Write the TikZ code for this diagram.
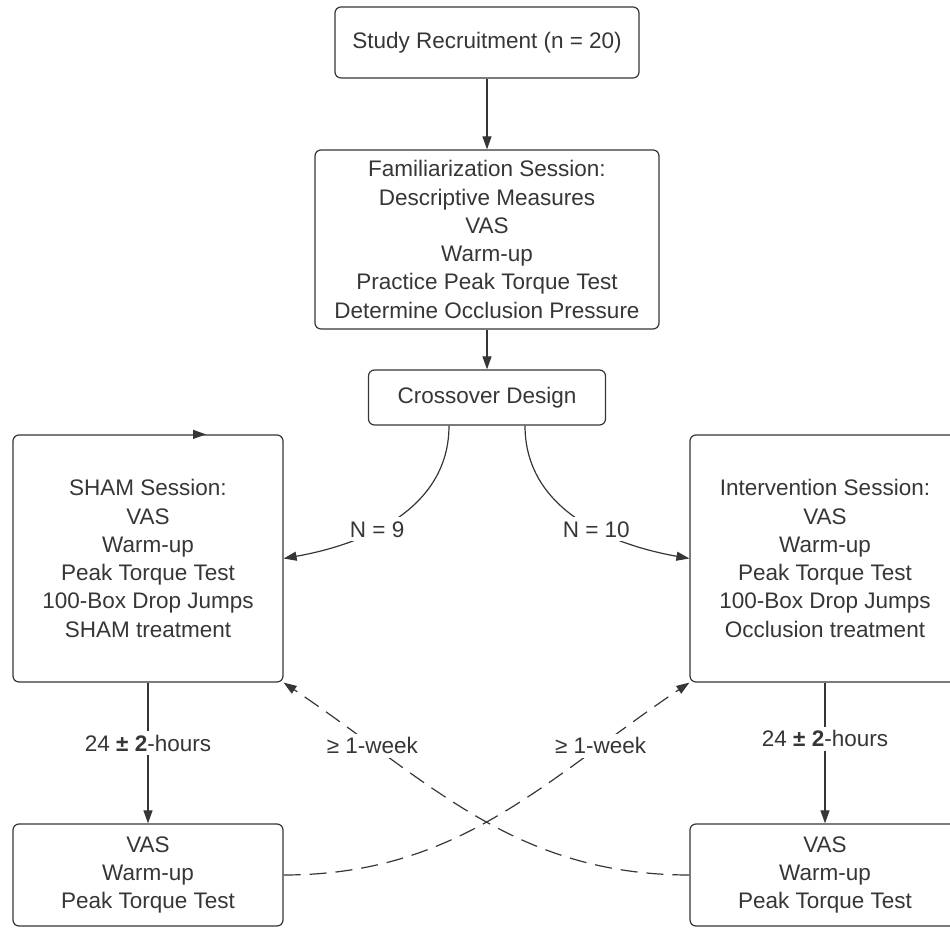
\documentclass[tikz,border=0pt]{standalone}
\usepackage{fontspec}
\setmainfont{Liberation Sans}
\usetikzlibrary{arrows.meta}
\definecolor{ink}{HTML}{363636}

\begin{document}
\begin{tikzpicture}[x=1pt,y=1pt,>={Triangle[length=13pt,width=9pt]},line width=1.2pt,color=ink,
 font=\fontsize{22.5}{28.3}\selectfont,
 box/.style={draw,rounded corners=6pt,inner sep=0pt,align=center},
 lbl/.style={fill=white,inner sep=4pt},
 gap/.style={dash pattern=on 17pt off 9pt}]
\useasboundingbox (0,0) rectangle (950,928);
\node[box,minimum width=304pt,minimum height=71pt] (recruit) at (487,885.5) {Study Recruitment (n = 20)};
\node[box,minimum width=344pt,minimum height=179pt] (famil) at (487,688.5) {Familiarization Session:\\Descriptive Measures\\VAS\\Warm-up\\Practice Peak Torque Test\\Determine Occlusion Pressure};
\node[box,minimum width=237pt,minimum height=55pt] (cross) at (487,530.5) {Crossover Design};
\node[box,minimum width=270pt,minimum height=247pt] (sham) at (148,369.5) {SHAM Session:\\VAS\\Warm-up\\Peak Torque Test\\100-Box Drop Jumps\\SHAM treatment};
\node[box,minimum width=270pt,minimum height=247pt] (interv) at (825,369.5) {Intervention Session:\\VAS\\Warm-up\\Peak Torque Test\\100-Box Drop Jumps\\Occlusion treatment};
\node[box,minimum width=270pt,minimum height=102pt] (shamfu) at (148,53) {VAS\\Warm-up\\Peak Torque Test};
\node[box,minimum width=270pt,minimum height=102pt] (intfu) at (825,53) {VAS\\Warm-up\\Peak Torque Test};
\draw[->] (recruit)--(famil); \draw[->] (famil)--(cross);
\draw[->] ([xshift=45pt]sham.north)--([xshift=58pt]sham.north);
\draw[->] ([xshift=-38pt]cross.south) to[out=-90,in=10] node[lbl,pos=.6] {N = 9} (sham.east);
\draw[->] ([xshift=38pt]cross.south) to[out=-90,in=170] node[lbl,pos=.6] {N = 10} (interv.west);
\draw[->] (sham)--node[lbl,pos=.43] {24 \textbf{± 2}-hours} (shamfu);
\draw[->] (interv)--node[lbl,pos=.4] {24 \textbf{± 2}-hours} (intfu);
\draw[->,gap] (shamfu.east) to[out=0,in=214] node[lbl,pos=.78] {≥ 1-week} (interv.south west);
\draw[->,gap] (intfu.west) to[out=180,in=-34] node[lbl,pos=.78] {≥ 1-week} (sham.south east);
\end{tikzpicture}
\end{document}
